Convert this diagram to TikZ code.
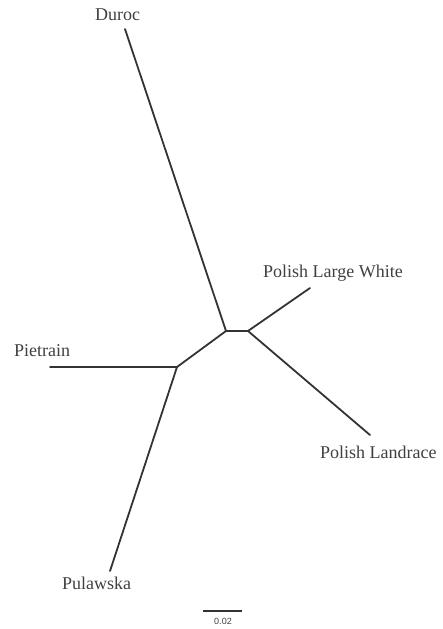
\documentclass[tikz,border=0pt]{standalone}
\usepackage{fontspec}
\setmainfont{Liberation Serif}
\newfontfamily\scalefont{Liberation Sans}
\begin{document}
\begin{tikzpicture}[x=1pt,y=-1pt,
  branch/.style={draw=black!80,line width=1.8pt,line cap=round},
  taxon/.style={inner sep=0pt,anchor=base west,text=black!75,font=\fontsize{18}{20}\selectfont},
  scalelbl/.style={inner sep=0pt,anchor=base,text=black!75,font=\scalefont\fontsize{9}{10}\selectfont}]
\useasboundingbox (0,0) rectangle (443,629);
% internal nodes
\coordinate (j1) at (226,331);
\coordinate (j2) at (248,331);
\coordinate (j3) at (177,367);
% tips
\coordinate (tDuroc) at (125,29);
\coordinate (tPLW) at (310,288);
\coordinate (tPL) at (370,435);
\coordinate (tPie) at (50,367);
\coordinate (tPul) at (110,571);
% branches
\draw[branch] (j1) -- (tDuroc);
\draw[branch] (j1) -- (j2);
\draw[branch] (j2) -- (tPLW);
\draw[branch] (j2) -- (tPL);
\draw[branch] (j1) -- (j3);
\draw[branch] (j3) -- (tPie);
\draw[branch] (j3) -- (tPul);
% labels
\node[taxon] (lDuroc) at (95,20) {Duroc};
\node[taxon] (lPLW) at (263,277) {Polish Large White};
\node[taxon] (lPie) at (14,356) {Pietrain};
\node[taxon] (lPL) at (320,458) {Polish Landrace};
\node[taxon] (lPul) at (62,589) {Pulawska};
% scale bar
\coordinate (s1) at (203,611);
\coordinate (s2) at (242,611);
\draw[draw=black!80,line width=1.2pt] (s1) -- (s2);
\node[scalelbl] (lScale) at (223,624) {0.02};
\end{tikzpicture}
\end{document}
